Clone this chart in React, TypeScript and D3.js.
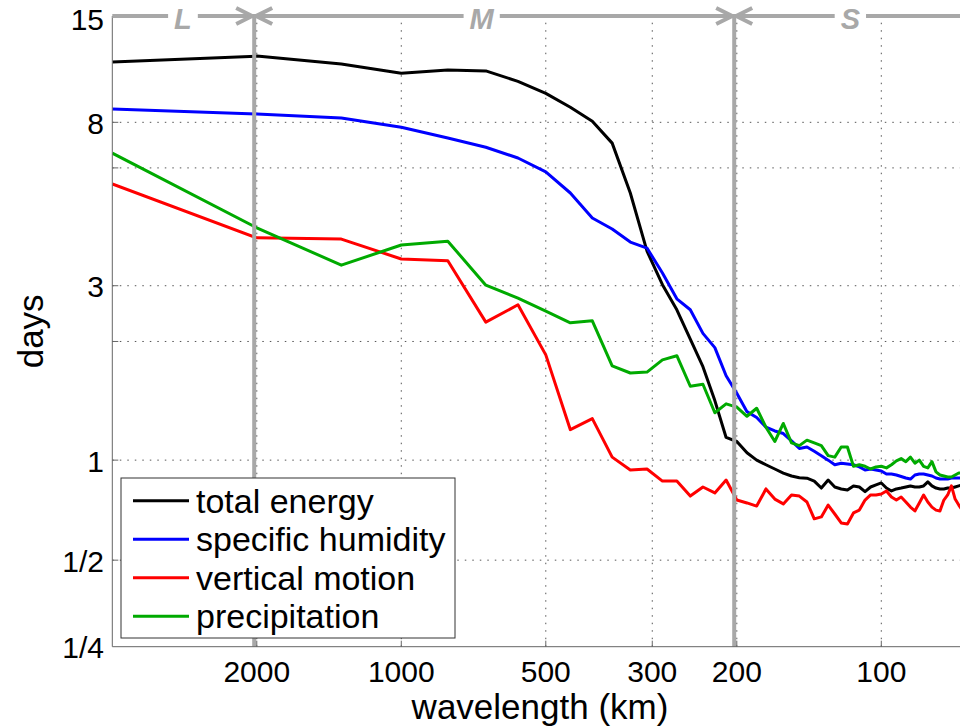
import React from 'react';
import * as d3 from 'd3';

// wavenumber n along a 4000 km domain -> wavelength = 4000 / n km
const DOMAIN_KM = 4000;
const wavenumbers = [
  1, 2, 3, 4, 5, 6, 7, 8, 9, 10, 11, 12, 13, 14, 15, 16, 17, 18, 19, 20,
  21, 22, 23, 24, 25, 26, 27, 28, 29, 30, 31, 32, 33, 34, 35, 36, 37, 38, 39, 40,
  41, 42, 43, 44, 45, 46, 47, 48, 49, 50, 51, 52, 53, 54, 55, 56, 57, 58, 59,
];

const totalEnergy = [
  11.43, 11.84, 11.3, 10.7, 10.9, 10.85, 10.2, 9.5, 8.75, 8.05, 7.07, 5.25, 3.7, 3.02, 2.59, 2.16,
  1.82, 1.47, 1.16, 1.13, 1.05, 1.0, 0.97, 0.943, 0.918, 0.9, 0.89, 0.887, 0.87, 0.83, 0.876, 0.836,
  0.825, 0.819, 0.842, 0.836, 0.81, 0.836, 0.848, 0.859, 0.83, 0.814, 0.825, 0.83, 0.836, 0.842,
  0.836, 0.836, 0.842, 0.865, 0.842, 0.83, 0.825, 0.825, 0.83, 0.83, 0.836, 0.842, 0.848,
];

const specificHumidity = [
  8.66, 8.4, 8.21, 7.77, 7.29, 6.9, 6.47, 5.96, 5.25, 4.52, 4.23, 3.91, 3.77, 3.24, 2.77, 2.59,
  2.24, 2.05, 1.72, 1.54, 1.37, 1.32, 1.24, 1.21, 1.19, 1.135, 1.08, 1.09, 1.06, 1.03, 1.0, 0.97,
  0.98, 0.975, 0.97, 0.956, 0.937, 0.943, 0.937, 0.931, 0.912, 0.912, 0.906, 0.897, 0.888, 0.882,
  0.906, 0.912, 0.912, 0.906, 0.9, 0.888, 0.882, 0.882, 0.882, 0.888, 0.888, 0.888, 0.888,
];

const verticalMotion = [
  5.54, 4.01, 3.98, 3.53, 3.49, 2.4, 2.67, 1.96, 1.22, 1.31, 1.02, 0.937, 0.943, 0.87, 0.87, 0.786,
  0.836, 0.803, 0.876, 0.765, 0.75, 0.734, 0.825, 0.77, 0.745, 0.792, 0.786, 0.755, 0.672, 0.681,
  0.739, 0.695, 0.653, 0.648, 0.7, 0.714, 0.765, 0.792, 0.792, 0.797, 0.814, 0.781, 0.765, 0.781,
  0.755, 0.729, 0.71, 0.75, 0.792, 0.755, 0.729, 0.714, 0.71, 0.765, 0.792, 0.842, 0.77, 0.739, 0.714,
];

const precipitation = [
  6.66, 4.26, 3.4, 3.84, 3.93, 3.01, 2.78, 2.57, 2.39, 2.42, 1.83, 1.75, 1.76, 1.9, 1.95, 1.61,
  1.63, 1.36, 1.44, 1.41, 1.33, 1.4, 1.24, 1.13, 1.27, 1.12, 1.1, 1.14, 1.12, 1.1, 1.03, 1.02,
  1.09, 1.09, 0.96, 0.97, 0.96, 0.943, 0.956, 0.96, 0.95, 0.97, 0.995, 1.01, 0.99, 1.02, 0.98,
  1.0, 0.96, 0.95, 0.99, 0.925, 0.906, 0.9, 0.894, 0.894, 0.906, 0.918, 0.918,
];

const seriesNames = ['total energy', 'specific humidity', 'vertical motion', 'precipitation'];
const seriesColors = ['#000000', '#0000ff', '#ff0000', '#00aa00'];
const seriesValues = [totalEnergy, specificHumidity, verticalMotion, precipitation];

const xTicks = [2000, 1000, 500, 300, 200, 100];
const yTicks = [15, 8, 3, 1, 0.5, 0.25];
const yTickLabels = ['15', '8', '3', '1', '1/2', '1/4'];
const yGridTicks = [8, 6.1, 3, 2.13, 1, 0.5];

const regimeBounds = [2025, 202.5];
const regimeLabels = ['L', 'M', 'S'];
const regimeLabelAt = [2850, 680, 116];
const regimeLabelWidth = [0.611, 0.833, 0.667];

const W = 960;
const H = 728;
const FONT = '"Liberation Sans", Arial, Helvetica, sans-serif';
const GRAY = '#a8a8a8';

export default function App() {
  const x = d3.scaleLog().domain([DOMAIN_KM, 100]).range([112.3, 881.3]);
  const y = d3.scaleSymlog().constant(0.13).domain([0.25, 15]).range([646.7, 16]);

  const left = x(DOMAIN_KM);
  const top = y(15);
  const bottom = y(0.25);
  const right = W;

  const line = (vals: number[]) =>
    d3
      .line<number>()
      .x((_, i) => x(DOMAIN_KM / wavenumbers[i]))
      .y((d) => y(d))(vals) as string;

  const legendX = 121;
  const legendY = 478;
  const legendW = 334;
  const legendH = 160;
  const rowH = 38.5;

  return (
    <svg
      width={W}
      height={H}
      style={{ position: 'absolute', left: 0, top: 0, background: '#fff' }}
      fontFamily={FONT}
    >
      <defs>
        <clipPath id="plot">
          <rect x={left} y={top - 2} width={right - left} height={bottom - top + 2} />
        </clipPath>
      </defs>
      <rect x={0} y={0} width={W} height={H} fill="#fff" />

      {/* grid */}
      <g stroke="#555" strokeWidth={1} strokeDasharray="1.5 6">
        {xTicks.map((t) => (
          <line key={'gx' + t} x1={x(t)} x2={x(t)} y1={bottom} y2={top} />
        ))}
        {yGridTicks.map((t) => (
          <line key={'gy' + t} x1={left} x2={right} y1={y(t)} y2={y(t)} />
        ))}
      </g>

      {/* data */}
      <g clipPath="url(#plot)" fill="none" strokeWidth={3} strokeLinejoin="round">
        {seriesValues.map((vals, k) => (
          <path key={seriesNames[k]} d={line(vals)} stroke={seriesColors[k]} />
        ))}
      </g>

      {/* regime boundaries */}
      <g stroke={GRAY} strokeWidth={4}>
        {regimeBounds.map((b) => (
          <line key={'rb' + b} x1={x(b)} x2={x(b)} y1={top} y2={bottom} />
        ))}
      </g>

      {/* axes */}
      <g stroke="#666" strokeWidth={1}>
        <line x1={left} x2={left} y1={top} y2={bottom} />
        <line x1={left} x2={right} y1={bottom} y2={bottom} />
        {xTicks.map((t) => (
          <line key={'tx' + t} x1={x(t)} x2={x(t)} y1={bottom} y2={bottom - 6} />
        ))}
        {yGridTicks.map((t) => (
          <line key={'ty' + t} x1={left} x2={left + 6} y1={y(t)} y2={y(t)} />
        ))}
      </g>

      {/* tick labels */}
      <g fontSize={30} fill="#000">
        {xTicks.map((t) => (
          <text key={'lx' + t} x={x(t)} y={682} textAnchor="middle">
            {t}
          </text>
        ))}
        {yTicks.map((t, i) => (
          <text key={'ly' + t} x={104} y={y(t)} dy={i === 0 ? '0.45em' : '0.38em'} textAnchor="end">
            {yTickLabels[i]}
          </text>
        ))}
      </g>

      {/* axis titles */}
      <text x={540} y={719} fontSize={35} textAnchor="middle" fill="#000">
        wavelength (km)
      </text>
      <text
        transform={`translate(42.5, ${(top + bottom) / 2}) rotate(-90)`}
        fontSize={35}
        textAnchor="middle"
        fill="#000"
      >
        days
      </text>

      {/* regime annotation on top */}
      <line x1={left} x2={right} y1={top} y2={top} stroke={GRAY} strokeWidth={4} />
      <g stroke={GRAY} strokeWidth={4} fill="none" strokeLinecap="butt">
        {regimeBounds.map((b) => {
          const bx = x(b);
          return (
            <g key={'ar' + b}>
              <path d={`M${bx - 18},${top - 8} L${bx - 2},${top} L${bx - 18},${top + 8}`} />
              <path d={`M${bx + 18},${top - 8} L${bx + 2},${top} L${bx + 18},${top + 8}`} />
            </g>
          );
        })}
      </g>
      {regimeLabels.map((lab, i) => {
        const cx = x(regimeLabelAt[i]);
        const w = regimeLabelWidth[i] * 29 + 12;
        return (
          <g key={'rl' + lab}>
            <rect x={cx - w / 2} y={top - 4} width={w} height={8} fill="#fff" />
            <text
              x={cx}
              y={29.3}
              fontSize={29}
              fontWeight="bold"
              fontStyle="italic"
              textAnchor="middle"
              fill={GRAY}
            >
              {lab}
            </text>
          </g>
        );
      })}

      {/* legend */}
      <g>
        <rect
          x={legendX}
          y={legendY}
          width={legendW}
          height={legendH}
          fill="#fff"
          stroke="#333"
          strokeWidth={1}
        />
        {seriesNames.map((name, i) => {
          const cy = legendY + 22.7 + i * rowH;
          return (
            <g key={'lg' + name}>
              <line x1={133} x2={189} y1={cy} y2={cy} stroke={seriesColors[i]} strokeWidth={3} />
              <text x={196} y={cy} dy="0.35em" fontSize={34} fill="#000">
                {name}
              </text>
            </g>
          );
        })}
      </g>
    </svg>
  );
}
